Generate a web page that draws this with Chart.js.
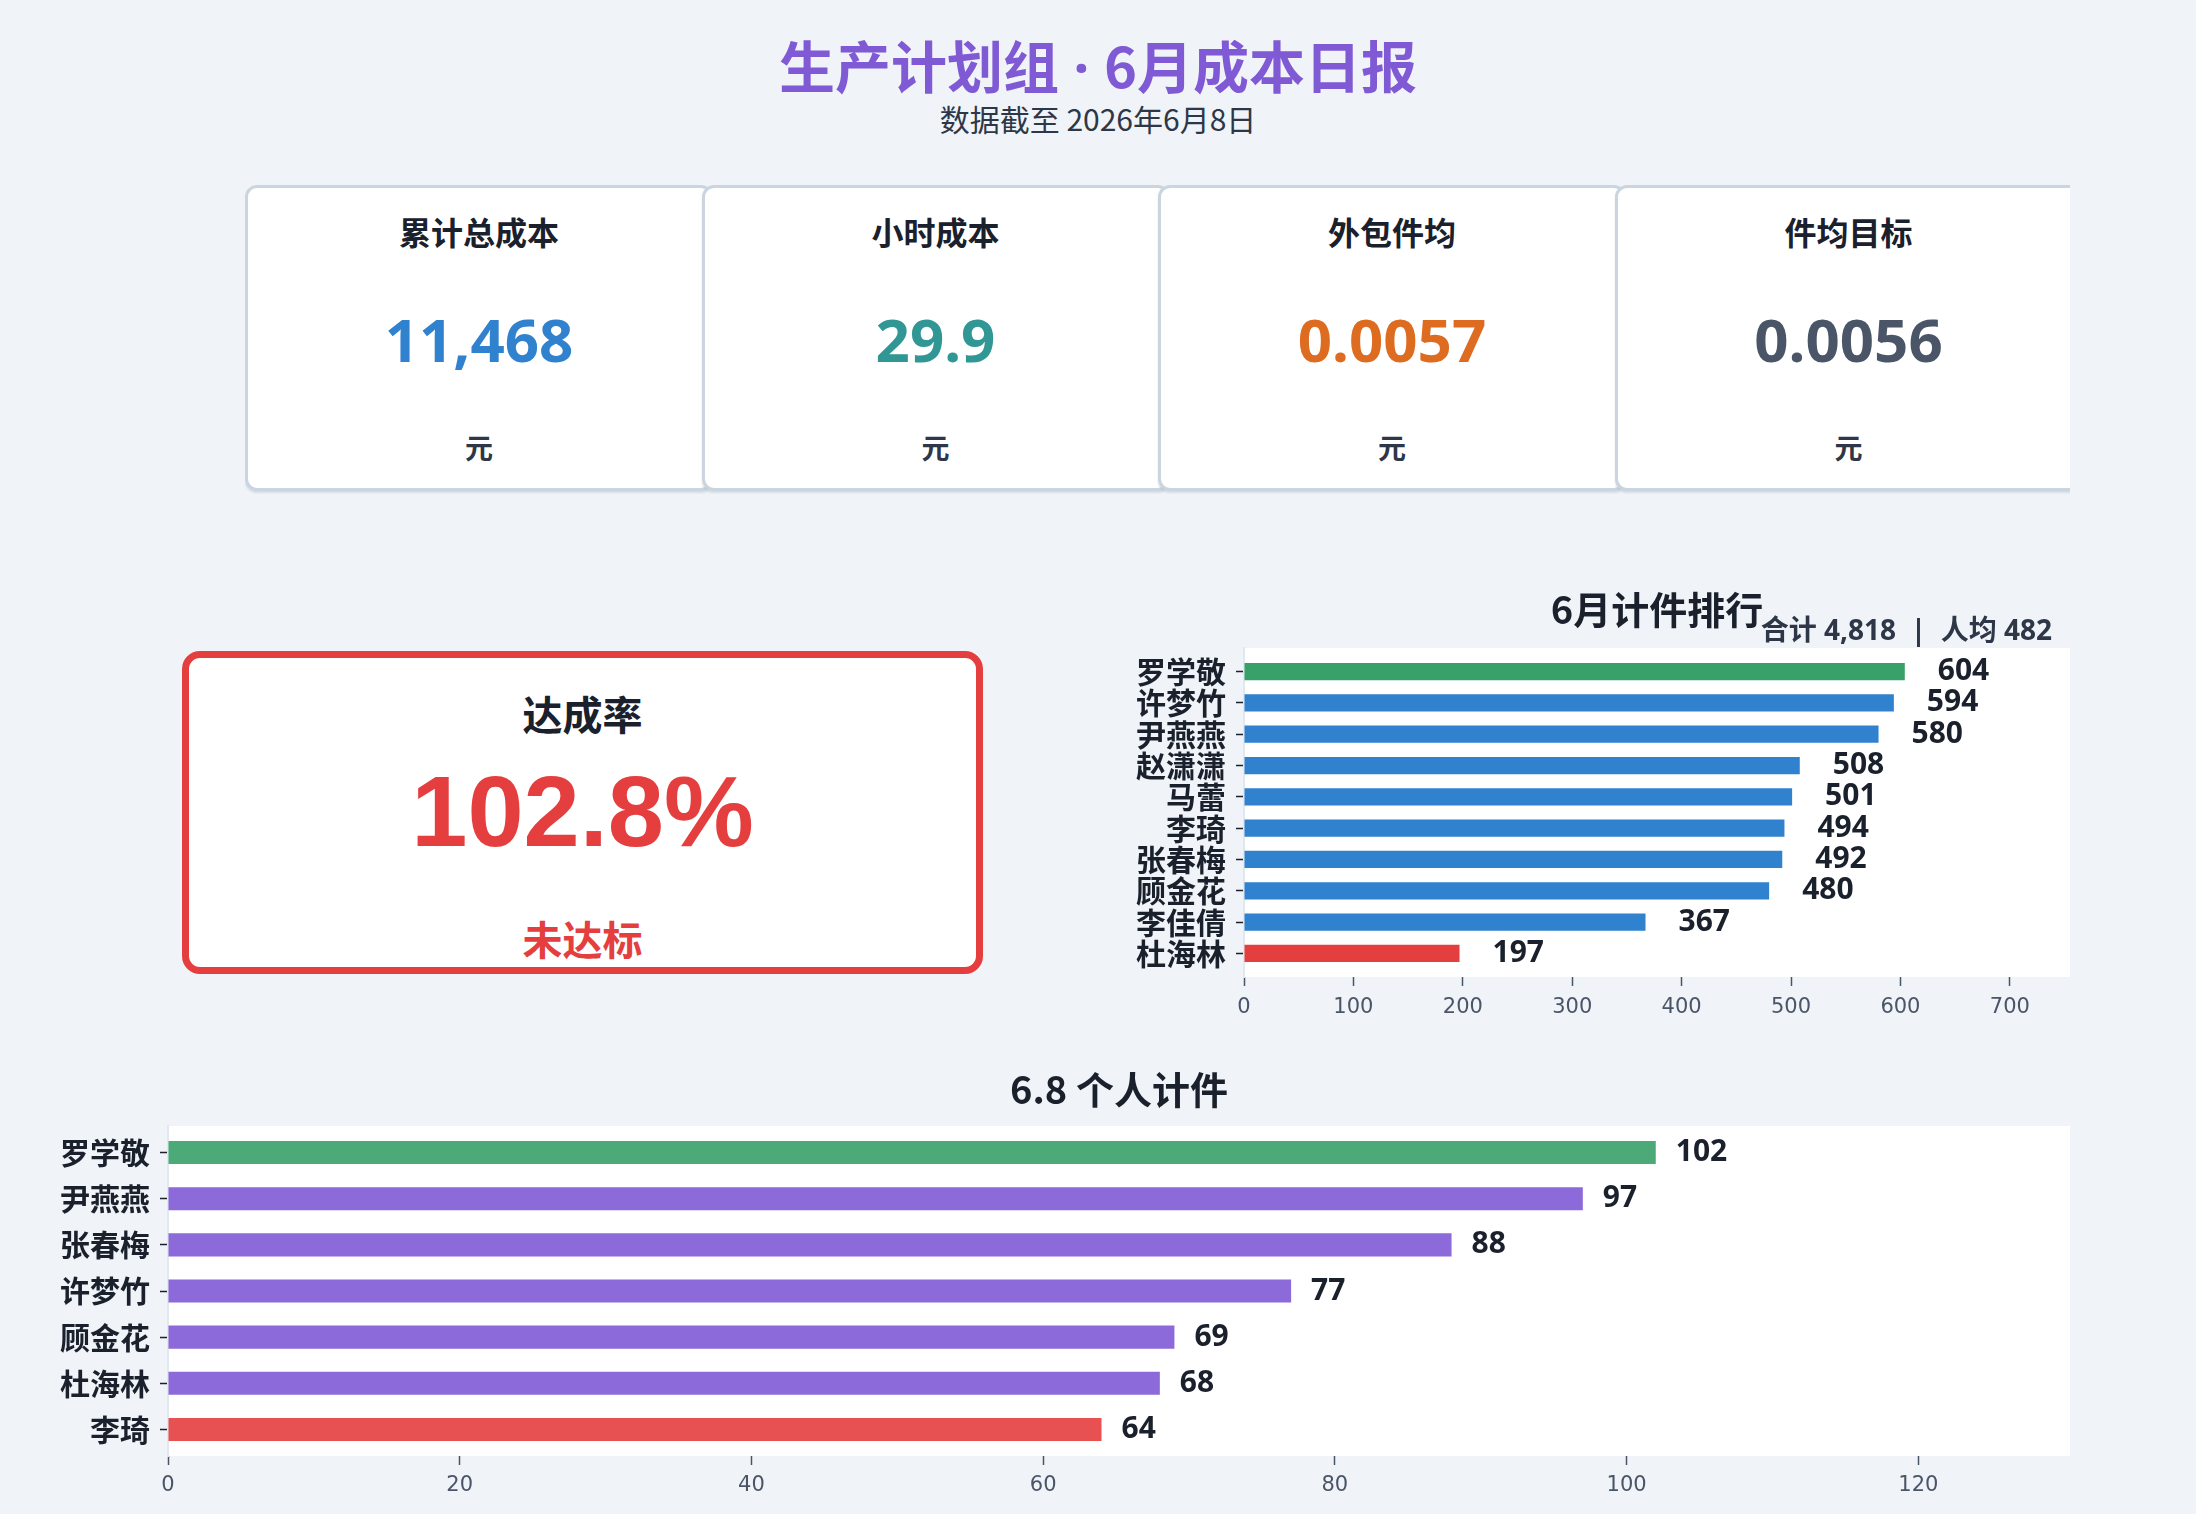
<!DOCTYPE html>
<html>
<head>
<meta charset="utf-8">
<script src="https://cdn.jsdelivr.net/npm/chart.js@4.4.0/dist/chart.umd.min.js"></script>
<style>
html,body{margin:0;padding:0;width:2196px;height:1514px;overflow:hidden;background:#f0f4f8;font-family:"Noto Sans CJK SC","Noto Sans",sans-serif;}
.abs{position:absolute;}
#title{left:0;width:2196px;top:36px;height:56px;line-height:56px;text-align:center;font-size:56px;font-weight:700;color:#805ad5;white-space:nowrap;}
#title .dot{font-family:"Noto Sans",sans-serif;}
#subtitle{left:0;width:2196px;top:103px;height:30px;line-height:30px;text-align:center;font-size:30px;color:#2d3748;white-space:nowrap;}
#cards{left:245px;top:185px;width:1825px;height:312px;overflow:hidden;}
.card{position:absolute;top:0;width:468px;height:306px;box-sizing:border-box;border:3px solid #cbd5e0;border-radius:12px;background:#fff;box-shadow:0 2px 2px rgba(160,174,192,0.35);}
.card .lab{position:absolute;left:0;right:0;top:27px;height:32px;line-height:32px;text-align:center;font-size:32px;font-weight:700;color:#1a202c;}
.card .val{position:absolute;left:0;right:0;top:121px;height:60px;line-height:60px;text-align:center;font-size:60px;font-weight:700;font-family:"Noto Sans","Open Sans",sans-serif;}
.card .unit{position:absolute;left:0;right:0;top:245px;height:28px;line-height:28px;text-align:center;font-size:28px;font-weight:700;color:#2d3748;}
#rate{left:182px;top:651px;width:801px;height:323px;box-sizing:border-box;border:7px solid #e53e3e;border-radius:18px;background:#fff;}
#rate .lab{position:absolute;left:0;right:0;top:35px;height:40px;line-height:40px;text-align:center;font-size:40px;font-weight:700;color:#1a202c;}
#rate .big{position:absolute;left:0;right:0;top:103px;height:101px;line-height:101px;text-align:center;font-size:101px;font-weight:700;color:#e53e3e;font-family:"Liberation Sans",Arial,sans-serif;}
#rate .st{position:absolute;left:0;right:0;top:260px;height:40px;line-height:40px;text-align:center;font-size:40px;font-weight:700;color:#e53e3e;}
#c1wrap{left:1100px;top:560px;width:970px;height:460px;}
#c2wrap{left:0px;top:1030px;width:2070px;height:484px;}
</style>
</head>
<body>
<div id="title" class="abs">生产计划组<span class="dot"> · </span>6月成本日报</div>
<div id="subtitle" class="abs">数据截至 2026年6月8日</div>
<div id="cards" class="abs"></div>
<div id="rate" class="abs"></div>
<div id="c1wrap" class="abs"><canvas id="c1"></canvas></div>
<div id="c2wrap" class="abs"><canvas id="c2"></canvas></div>
<script>
// ---- data ----
const kpiLabels = ['累计总成本', '小时成本', '外包件均', '件均目标'];
const kpiValues = ['11,468', '29.9', '0.0057', '0.0056'];
const kpiUnits = ['元', '元', '元', '元'];
const rateLabel = '达成率';
const rateValue = '102.8%';
const rateStatus = '未达标';

const monthTitle = '6月计件排行';
const monthSummary = '合计 4,818  |  人均 482';
const monthNames = ['罗学敬', '许梦竹', '尹燕燕', '赵潇潇', '马蕾', '李琦', '张春梅', '顾金花', '李佳倩', '杜海林'];
const monthCounts = [604, 594, 580, 508, 501, 494, 492, 480, 367, 197];
const monthTicks = [0, 100, 200, 300, 400, 500, 600, 700];

const dayTitle = '6.8 个人计件';
const dayNames = ['罗学敬', '尹燕燕', '张春梅', '许梦竹', '顾金花', '杜海林', '李琦'];
const dayCounts = [102, 97, 88, 77, 69, 68, 64];
const dayTicks = [0, 20, 40, 60, 80, 100, 120];

// ---- KPI cards ----
const kpiColors = ['#3182ce', '#319795', '#dd6b20', '#4a5568'];
const cardsEl = document.getElementById('cards');
kpiLabels.forEach((l, i) => {
  const c = document.createElement('div');
  c.className = 'card';
  c.style.left = (i * 456.5) + 'px';
  c.innerHTML = '<div class="lab"></div><div class="val"></div><div class="unit"></div>';
  c.querySelector('.lab').textContent = l;
  const v = c.querySelector('.val');
  v.textContent = kpiValues[i];
  v.style.color = kpiColors[i];
  c.querySelector('.unit').textContent = kpiUnits[i];
  cardsEl.appendChild(c);
});
const rateEl = document.getElementById('rate');
rateEl.innerHTML = '<div class="lab"></div><div class="big"></div><div class="st"></div>';
rateEl.querySelector('.lab').textContent = rateLabel;
rateEl.querySelector('.big').textContent = rateValue;
rateEl.querySelector('.st').textContent = rateStatus;

// ---- Chart helpers ----
const CJK = '"Noto Sans CJK SC", "Noto Sans", sans-serif';
const MIXED = '"Noto Sans", "Noto Sans CJK SC", sans-serif';
const TICKFONT = '"DejaVu Sans", sans-serif';

const plotBg = {
  id: 'plotBg',
  beforeDraw(chart) {
    const a = chart.chartArea, ctx = chart.ctx;
    ctx.save();
    ctx.fillStyle = '#ffffff';
    ctx.fillRect(a.left, a.top, a.right - a.left, a.bottom - a.top);
    ctx.restore();
  }
};

const header = {
  id: 'header',
  afterDraw(chart, args, o) {
    const a = chart.chartArea, ctx = chart.ctx;
    ctx.save();
    ctx.fillStyle = '#1a202c';
    ctx.textBaseline = 'middle';
    ctx.textAlign = 'center';
    ctx.font = 'bold ' + o.titleSize + 'px ' + CJK;
    ctx.fillText(o.title, (a.left + a.right) / 2, a.top - o.titleGap);
    if (o.subtitle) {
      ctx.fillStyle = '#2d3748';
      ctx.textAlign = 'right';
      ctx.font = 'bold ' + o.subSize + 'px ' + MIXED;
      ctx.fillText(o.subtitle, a.right - o.subInset, a.top - o.subGap);
    }
    ctx.restore();
  }
};

const valueLabels = {
  id: 'valueLabels',
  afterDatasetsDraw(chart, args, o) {
    const ctx = chart.ctx;
    const meta = chart.getDatasetMeta(0);
    const ds = chart.data.datasets[0];
    ctx.save();
    ctx.fillStyle = '#1a202c';
    ctx.font = 'bold ' + o.size + 'px ' + MIXED;
    ctx.textAlign = 'left';
    ctx.textBaseline = 'middle';
    meta.data.forEach((el, i) => {
      ctx.fillText(String(ds.data[i].x), el.x + o.offset, el.y);
    });
    ctx.restore();
  }
};

function barChart(id, names, counts, ticks, opt) {
  const n = names.length;
  const pad = opt.barFrac / 2 + 0.05 * (n - 1 + opt.barFrac);
  const colors = names.map((_, i) => i === 0 ? opt.top : (i === n - 1 ? opt.bottom : opt.mid));
  return new Chart(document.getElementById(id), {
    type: 'bar',
    data: {
      datasets: [{
        data: counts.map((v, i) => ({ x: v, y: i })),
        backgroundColor: colors,
        borderWidth: 0,
        categoryPercentage: 1,
        barPercentage: opt.barFrac
      }]
    },
    options: {
      indexAxis: 'y',
      responsive: true,
      maintainAspectRatio: false,
      animation: false,
      layout: { padding: { top: opt.padTop, left: 0, right: 0, bottom: 0 } },
      plugins: {
        legend: { display: false },
        tooltip: { enabled: false },
        header: opt.header,
        valueLabels: { size: 30, offset: opt.labelOffset }
      },
      scales: {
        x: {
          type: 'linear',
          min: 0,
          max: opt.xMax,
          offset: false,
          afterBuildTicks: ax => { ax.ticks = ticks.map(v => ({ value: v })); },
          ticks: { autoSkip: false, color: '#4a5568', font: { family: TICKFONT, size: 21 }, padding: opt.xPad, maxRotation: 0 },
          grid: { offset: false, drawOnChartArea: false, drawTicks: true, tickLength: 9, tickColor: '#4a5568', tickWidth: 1.5 },
          border: { display: false },
          afterFit: s => { s.height = opt.xHeight; }
        },
        y: {
          type: 'linear',
          reverse: true,
          offset: false,
          min: -pad,
          max: n - 1 + pad,
          afterBuildTicks: ax => { ax.ticks = names.map((_, i) => ({ value: i })); },
          ticks: { autoSkip: false, color: '#1a202c', font: { family: CJK, size: 30, weight: 'bold' }, padding: 10, callback: v => names[v] },
          grid: { offset: false, drawOnChartArea: false, drawTicks: true, tickLength: 8, tickColor: '#1a202c', tickWidth: 1.5 },
          border: { display: true, color: '#e2e8f0', width: 2 },
          afterFit: s => { s.width = opt.yWidth; }
        }
      }
    },
    plugins: [plotBg, header, valueLabels]
  });
}

barChart('c1', monthNames, monthCounts, monthTicks, {
  barFrac: 0.55, top: '#38a169', mid: '#3182ce', bottom: '#e53e3e',
  xMax: 755, padTop: 88, xHeight: 43, yWidth: 144, xPad: 9, labelOffset: 33,
  header: { title: monthTitle, titleSize: 38, titleGap: 38, subtitle: monthSummary, subSize: 28, subGap: 16, subInset: 18 }
});

barChart('c2', dayNames, dayCounts, dayTicks, {
  barFrac: 0.5, top: 'rgba(56,161,105,0.9)', mid: 'rgba(128,90,213,0.9)', bottom: 'rgba(229,62,62,0.9)',
  xMax: 130.4, padTop: 96, xHeight: 58, yWidth: 168, xPad: 8, labelOffset: 20,
  header: { title: dayTitle, titleSize: 38, titleGap: 36 }
});
</script>
</body>
</html>
